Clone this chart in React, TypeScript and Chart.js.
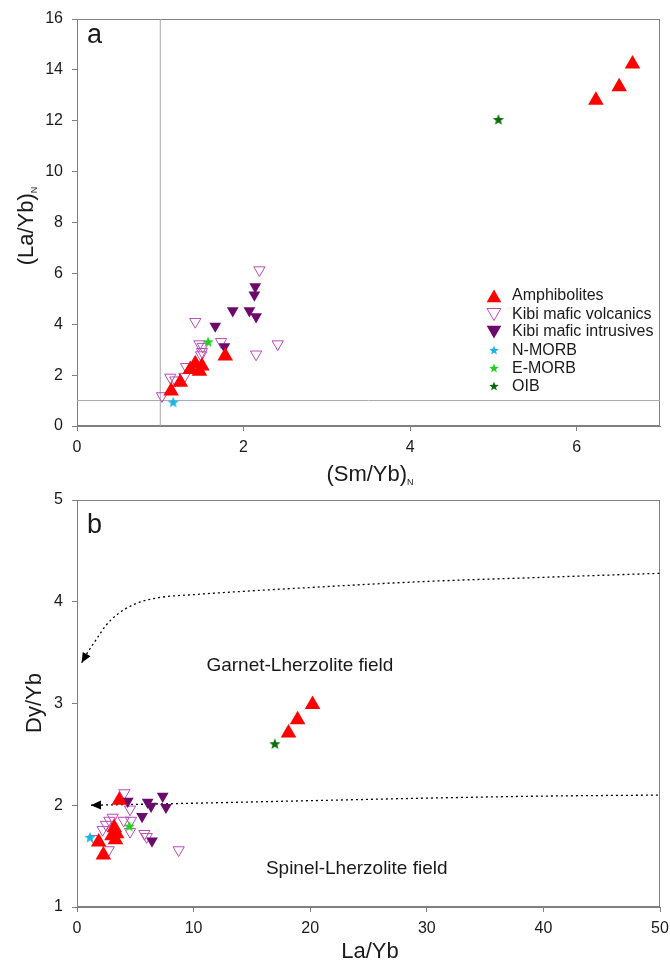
import React, { useEffect, useRef } from 'react';
import { Chart, registerables } from 'chart.js';

Chart.register(...registerables);

const FONT = '"Liberation Sans", Arial, Helvetica, sans-serif';
const TEXT_C = '#1a1a1a';
const AXIS_C = '#808080';
const REF_C = '#a8a8a8';
const AMPH_C = '#ff0000';
const VOLC_C = '#b64cb6';
const INTR_C = '#6c0a6c';
const NMORB_C = '#1cb4e6';
const EMORB_C = '#22d022';
const OIB_C = '#0b6b0b';

// ---------------- Panel a : (La/Yb)N vs (Sm/Yb)N ----------------
const A_X_TICKS = [0, 2, 4, 6];
const A_Y_TICKS = [0, 2, 4, 6, 8, 10, 12, 14, 16];
const A_X_RANGE = [0, 7];
const A_Y_RANGE = [0, 16];
const A_REF_X = 1;
const A_REF_Y = 1;

const A_AMPH_X = [1.13, 1.24, 1.36, 1.42, 1.47, 1.5, 1.78, 6.23, 6.51, 6.67];
const A_AMPH_Y = [1.38, 1.72, 2.22, 2.45, 2.15, 2.36, 2.75, 12.81, 13.34, 14.23];
const A_VOLC_X = [2.19, 1.42, 1.73, 1.47, 1.51, 1.5, 1.49, 2.15, 2.41, 1.31, 1.12, 1.29, 1.02, 1.18];
const A_VOLC_Y = [6.13, 4.1, 3.31, 3.22, 3.12, 2.92, 2.79, 2.82, 3.22, 2.33, 1.91, 1.94, 1.18, 1.8];
const A_INTR_X = [2.14, 2.13, 1.87, 2.07, 2.15, 1.66, 1.77];
const A_INTR_Y = [5.48, 5.15, 4.53, 4.53, 4.3, 3.93, 3.12];
const A_NMORB_X = [1.155];
const A_NMORB_Y = [0.92];
const A_EMORB_X = [1.575];
const A_EMORB_Y = [3.29];
const A_OIB_X = [5.06];
const A_OIB_Y = [12.03];

// ---------------- Panel b : Dy/Yb vs La/Yb ----------------
const B_X_TICKS = [0, 10, 20, 30, 40, 50];
const B_Y_TICKS = [1, 2, 3, 4, 5];
const B_X_RANGE = [0, 50];
const B_Y_RANGE = [1, 5];

const B_AMPH_X = [1.86, 2.26, 3.0, 3.2, 3.4, 3.3, 3.63, 18.14, 18.92, 20.2];
const B_AMPH_Y = [1.64, 1.51, 1.7, 1.78, 1.72, 1.66, 2.05, 2.71, 2.84, 2.99];
const B_VOLC_X = [4.06, 4.55, 3.06, 2.78, 2.49, 2.2, 4.0, 4.63, 4.55, 5.78, 5.98, 2.72, 8.72, 1.49];
const B_VOLC_Y = [2.12, 1.96, 1.88, 1.85, 1.81, 1.76, 1.85, 1.85, 1.74, 1.72, 1.69, 1.56, 1.56, 1.67];
const B_INTR_X = [4.35, 6.06, 6.35, 7.35, 7.63, 5.58, 6.43];
const B_INTR_Y = [2.04, 2.03, 1.99, 2.09, 1.98, 1.89, 1.65];
const B_NMORB_X = [1.12];
const B_NMORB_Y = [1.68];
const B_EMORB_X = [4.49];
const B_EMORB_Y = [1.79];
const B_OIB_X = [16.97];
const B_OIB_Y = [2.6];

// dotted trend curves (arrow at first point)
const B_UPPER_X = [0.4, 0.9, 1.6, 2.5, 3.5, 5, 7, 10, 20, 30, 40, 50];
const B_UPPER_Y = [3.4, 3.5, 3.62, 3.77, 3.88, 3.98, 4.04, 4.07, 4.14, 4.2, 4.24, 4.28];
const B_LOWER_X = [1.2, 10, 20, 30, 40, 50];
const B_LOWER_Y = [2.0, 2.02, 2.045, 2.07, 2.09, 2.1];

const FIELD_LABELS = ['Garnet-Lherzolite field', 'Spinel-Lherzolite field'];
const FIELD_X = [11.1, 16.2];
const FIELD_Y = [3.37, 1.38];

const LEGEND_LABELS = ['Amphibolites', 'Kibi mafic volcanics', 'Kibi mafic intrusives', 'N-MORB', 'E-MORB', 'OIB'];

const zip = (xs: number[], ys: number[]) => xs.map((x, i) => ({ x, y: ys[i] }));

function drawStar(ctx: CanvasRenderingContext2D, cx: number, cy: number, R: number, color: string) {
  const r = R * 0.42;
  ctx.beginPath();
  for (let i = 0; i < 10; i++) {
    const ang = -Math.PI / 2 + (i * Math.PI) / 5;
    const rad = i % 2 === 0 ? R : r;
    const px = cx + Math.cos(ang) * rad;
    const py = cy + Math.sin(ang) * rad;
    if (i === 0) ctx.moveTo(px, py);
    else ctx.lineTo(px, py);
  }
  ctx.closePath();
  ctx.fillStyle = color;
  ctx.fill();
}

function starCanvas(color: string, R = 6) {
  const s = Math.ceil(R * 2 + 2);
  const c = document.createElement('canvas');
  c.width = s;
  c.height = s;
  const ctx = c.getContext('2d')!;
  drawStar(ctx, s / 2, s / 2, R, color);
  return c;
}

function drawTri(ctx: CanvasRenderingContext2D, cx: number, cy: number, r: number, down: boolean, fill: string | null, stroke: string | null) {
  const sg = down ? -1 : 1;
  ctx.beginPath();
  ctx.moveTo(cx, cy - sg * r);
  ctx.lineTo(cx + (r * Math.sqrt(3)) / 2, cy + (sg * r) / 2);
  ctx.lineTo(cx - (r * Math.sqrt(3)) / 2, cy + (sg * r) / 2);
  ctx.closePath();
  if (fill) {
    ctx.fillStyle = fill;
    ctx.fill();
  }
  if (stroke) {
    ctx.strokeStyle = stroke;
    ctx.lineWidth = 1;
    ctx.stroke();
  }
}

function titleWithSub(ctx: CanvasRenderingContext2D, main: string, sub: string, x: number, y: number, rotate: boolean, size: number) {
  ctx.save();
  ctx.translate(x, y);
  if (rotate) ctx.rotate(-Math.PI / 2);
  ctx.fillStyle = TEXT_C;
  ctx.textBaseline = 'alphabetic';
  ctx.textAlign = 'left';
  ctx.font = `${size}px ${FONT}`;
  const w1 = ctx.measureText(main).width;
  const subSize = Math.round(size * 0.42);
  ctx.font = `${subSize}px ${FONT}`;
  const w2 = sub ? ctx.measureText(sub).width : 0;
  const start = -(w1 + w2) / 2;
  ctx.font = `${size}px ${FONT}`;
  ctx.fillText(main, start, 0);
  if (sub) {
    ctx.font = `${subSize}px ${FONT}`;
    ctx.fillText(sub, start + w1, size * 0.18);
  }
  ctx.restore();
}

function frame(chart: any) {
  const { ctx, chartArea: ca } = chart;
  ctx.save();
  ctx.strokeStyle = AXIS_C;
  ctx.lineWidth = 1;
  const l = Math.round(ca.left) + 0.5;
  const t = Math.round(ca.top) + 0.5;
  const r = Math.round(ca.right) - 0.5;
  const b = Math.round(ca.bottom) - 0.5;
  ctx.strokeRect(l, t, r - l, b - t);
  ctx.restore();
}

function axis(range: number[], ticks: number[], isX: boolean, size: number, pad: number) {
  return {
    type: 'linear',
    min: range[0],
    max: range[1],
    afterBuildTicks: (s: any) => {
      s.ticks = ticks.map((v) => ({ value: v }));
    },
    afterFit: (s: any) => {
      if (isX) {
        s.height = size;
        s.paddingLeft = 0;
        s.paddingRight = 0;
      } else {
        s.width = size;
        s.paddingTop = 0;
        s.paddingBottom = 0;
      }
    },
    grid: { display: true, drawOnChartArea: false, drawTicks: true, tickLength: 5, color: AXIS_C, lineWidth: 1 },
    border: { display: true, color: AXIS_C, width: 1 },
    ticks: { font: { family: FONT, size: 16 }, color: TEXT_C, padding: pad, maxRotation: 0, autoSkip: false },
    title: { display: false },
  };
}

function markerSets(p: any, stars: any) {
  return [
    { label: 'N-MORB', data: p.nmorb, pointStyle: stars.n, pointRadius: 6, backgroundColor: NMORB_C, borderColor: NMORB_C },
    { label: 'E-MORB', data: p.emorb, pointStyle: stars.e, pointRadius: 6, backgroundColor: EMORB_C, borderColor: EMORB_C },
    { label: 'OIB', data: p.oib, pointStyle: stars.o, pointRadius: 6, backgroundColor: OIB_C, borderColor: OIB_C },
    { label: 'Amphibolites', data: p.amph, pointStyle: 'triangle', pointRadius: 9, backgroundColor: AMPH_C, borderColor: AMPH_C, borderWidth: 0 },
    { label: 'Kibi mafic intrusives', data: p.intr, pointStyle: 'triangle', rotation: 180, pointRadius: 6.8, backgroundColor: INTR_C, borderColor: INTR_C, borderWidth: 0 },
    { label: 'Kibi mafic volcanics', data: p.volc, pointStyle: 'triangle', rotation: 180, pointRadius: 6.5, backgroundColor: 'rgba(0,0,0,0)', borderColor: VOLC_C, borderWidth: 1 },
  ];
}

function drawLegend(ctx: CanvasRenderingContext2D) {
  const sx = 494;
  const tx = 512;
  const rows = [296, 314.5, 332, 350.5, 368.5, 386.5];
  ctx.save();
  drawTri(ctx, sx, rows[0] + 2, 8.5, false, AMPH_C, null);
  drawTri(ctx, sx, rows[1] - 2, 8, true, null, VOLC_C);
  drawTri(ctx, sx, rows[2] - 2, 8.5, true, INTR_C, null);
  drawStar(ctx, sx, rows[3], 5, NMORB_C);
  drawStar(ctx, sx, rows[4], 5, EMORB_C);
  drawStar(ctx, sx, rows[5], 5, OIB_C);
  ctx.fillStyle = TEXT_C;
  ctx.font = `16px ${FONT}`;
  ctx.textAlign = 'left';
  ctx.textBaseline = 'middle';
  LEGEND_LABELS.forEach((lab, i) => ctx.fillText(lab, tx, rows[i]));
  ctx.restore();
}

function arrowHead(ctx: CanvasRenderingContext2D, chart: any, xs: number[], ys: number[]) {
  const sx = chart.scales.x;
  const sy = chart.scales.y;
  const x0 = sx.getPixelForValue(xs[0]);
  const y0 = sy.getPixelForValue(ys[0]);
  const x1 = sx.getPixelForValue(xs[1]);
  const y1 = sy.getPixelForValue(ys[1]);
  const ang = Math.atan2(y0 - y1, x0 - x1);
  const L = 10;
  const W = 4.5;
  const bx = x0 - Math.cos(ang) * L;
  const by = y0 - Math.sin(ang) * L;
  ctx.save();
  ctx.beginPath();
  ctx.moveTo(x0, y0);
  ctx.lineTo(bx + Math.sin(ang) * W, by - Math.cos(ang) * W);
  ctx.lineTo(bx - Math.sin(ang) * W, by + Math.cos(ang) * W);
  ctx.closePath();
  ctx.fillStyle = '#000';
  ctx.fill();
  ctx.restore();
}

function baseOptions(padTop: number, xAxis: any, yAxis: any) {
  return {
    animation: false,
    responsive: false,
    devicePixelRatio: 1,
    events: [],
    layout: { padding: { top: padTop, right: 10, left: 0, bottom: 0 } },
    plugins: { legend: { display: false }, tooltip: { enabled: false }, title: { display: false } },
    scales: { x: xAxis, y: yAxis },
  };
}

function configA(stars: any): any {
  const p = {
    amph: zip(A_AMPH_X, A_AMPH_Y),
    volc: zip(A_VOLC_X, A_VOLC_Y),
    intr: zip(A_INTR_X, A_INTR_Y),
    nmorb: zip(A_NMORB_X, A_NMORB_Y),
    emorb: zip(A_EMORB_X, A_EMORB_Y),
    oib: zip(A_OIB_X, A_OIB_Y),
  };
  const refLines = [
    { label: 'refx', data: [{ x: A_REF_X, y: A_Y_RANGE[0] }, { x: A_REF_X, y: A_Y_RANGE[1] }], showLine: true, pointRadius: 0, borderColor: REF_C, borderWidth: 1 },
    { label: 'refy', data: [{ x: A_X_RANGE[0], y: A_REF_Y }, { x: A_X_RANGE[1], y: A_REF_Y }], showLine: true, pointRadius: 0, borderColor: REF_C, borderWidth: 1 },
  ];
  return {
    type: 'scatter',
    data: { datasets: [...markerSets(p, stars), ...refLines] },
    options: baseOptions(19, axis(A_X_RANGE, A_X_TICKS, true, 64, 7), axis(A_Y_RANGE, A_Y_TICKS, false, 77, 9)),
    plugins: [
      {
        id: 'panelA',
        beforeDatasetsDraw(chart: any) {
          frame(chart);
        },
        afterDraw(chart: any) {
          const { ctx } = chart;
          ctx.save();
          ctx.fillStyle = TEXT_C;
          ctx.font = `27px ${FONT}`;
          ctx.textAlign = 'left';
          ctx.textBaseline = 'alphabetic';
          ctx.fillText('a', 87, 43);
          ctx.restore();
          titleWithSub(ctx, '(Sm/Yb)', 'N', 370, 481, false, 22);
          titleWithSub(ctx, '(La/Yb)', 'N', 33, 226, true, 22);
          drawLegend(ctx);
        },
      },
    ],
  };
}

function configB(stars: any): any {
  const p = {
    amph: zip(B_AMPH_X, B_AMPH_Y),
    volc: zip(B_VOLC_X, B_VOLC_Y),
    intr: zip(B_INTR_X, B_INTR_Y),
    nmorb: zip(B_NMORB_X, B_NMORB_Y),
    emorb: zip(B_EMORB_X, B_EMORB_Y),
    oib: zip(B_OIB_X, B_OIB_Y),
  };
  const curves = [
    { label: 'upper', data: zip(B_UPPER_X, B_UPPER_Y), showLine: true, pointRadius: 0, borderColor: '#000', borderWidth: 1.3, borderDash: [2, 3], cubicInterpolationMode: 'monotone' },
    { label: 'lower', data: zip(B_LOWER_X, B_LOWER_Y), showLine: true, pointRadius: 0, borderColor: '#000', borderWidth: 1.3, borderDash: [2, 3], cubicInterpolationMode: 'monotone' },
  ];
  return {
    type: 'scatter',
    data: { datasets: [...markerSets(p, stars), ...curves] },
    options: baseOptions(10, axis(B_X_RANGE, B_X_TICKS, true, 59, 7), axis(B_Y_RANGE, B_Y_TICKS, false, 77, 9)),
    plugins: [
      {
        id: 'panelB',
        beforeDatasetsDraw(chart: any) {
          frame(chart);
          const { ctx } = chart;
          arrowHead(ctx, chart, B_UPPER_X, B_UPPER_Y);
          arrowHead(ctx, chart, B_LOWER_X, B_LOWER_Y);
          ctx.save();
          ctx.fillStyle = TEXT_C;
          ctx.font = `19px ${FONT}`;
          ctx.textAlign = 'left';
          ctx.textBaseline = 'middle';
          FIELD_LABELS.forEach((lab, i) => {
            ctx.fillText(lab, chart.scales.x.getPixelForValue(FIELD_X[i]), chart.scales.y.getPixelForValue(FIELD_Y[i]));
          });
          ctx.restore();
        },
        afterDraw(chart: any) {
          const { ctx } = chart;
          ctx.save();
          ctx.fillStyle = TEXT_C;
          ctx.font = `27px ${FONT}`;
          ctx.textAlign = 'left';
          ctx.textBaseline = 'alphabetic';
          ctx.fillText('b', 87, 43);
          ctx.restore();
          titleWithSub(ctx, 'La/Yb', '', 370, 468, false, 22);
          titleWithSub(ctx, 'Dy/Yb', '', 41, 213, true, 22);
        },
      },
    ],
  };
}

export default function App() {
  const refA = useRef<HTMLCanvasElement>(null);
  const refB = useRef<HTMLCanvasElement>(null);
  useEffect(() => {
    const stars = { n: starCanvas(NMORB_C), e: starCanvas(EMORB_C), o: starCanvas(OIB_C) };
    const chA = new Chart(refA.current!, configA(stars));
    const chB = new Chart(refB.current!, configB(stars));
    return () => {
      chA.destroy();
      chB.destroy();
    };
  }, []);
  return (
    <div style={{ position: 'absolute', left: 0, top: 0, width: 670, height: 966, background: '#fff' }}>
      <canvas ref={refA} width={670} height={490} style={{ position: 'absolute', left: 0, top: 0, width: 670, height: 490 }} />
      <canvas ref={refB} width={670} height={476} style={{ position: 'absolute', left: 0, top: 490, width: 670, height: 476 }} />
    </div>
  );
}
